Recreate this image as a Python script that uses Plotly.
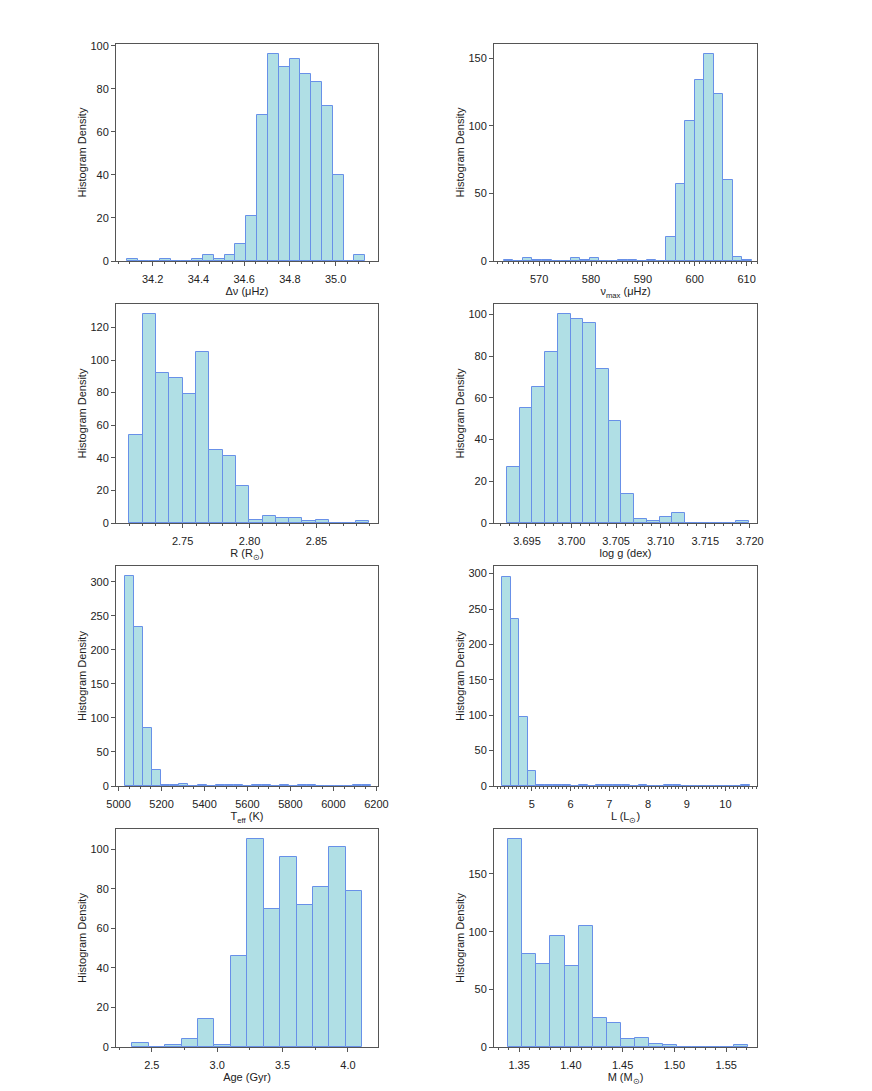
import numpy as np
import plotly.graph_objects as go

# ---- data: bin edge span [first, last] and counts per bin ----
dnu_edges = [34.089, 35.1295]
dnu_counts = [1, 0, 0, 1, 0, 0, 1, 3, 1, 3, 8, 21, 68, 96, 90, 94, 87, 83, 72, 40, 0, 3]

numax_edges = [563.19, 611.02]
numax_counts = [1, 0, 2, 1, 1, 0, 0, 2, 1, 2, 0, 0, 1, 1, 0, 1, 0,
                18, 57, 104, 134, 153, 124, 60, 3, 1]

rad_edges = [2.7102, 2.8893]
rad_counts = [54, 128, 92, 89, 79, 105, 45, 41, 23, 2, 4, 3, 3, 1, 2, 0, 0, 1]

logg_edges = [3.69275, 3.71985]
logg_counts = [27, 55, 65, 82, 100, 98, 96, 74, 49, 14, 2, 1, 3, 5, 0, 0, 0, 0, 1]

teff_edges = [5028.0, 6175.0]
teff_counts = [308, 234, 85, 23, 1, 1, 3, 0, 1, 0, 2, 1, 1, 0, 2, 1, 0, 1, 0, 1,
               1, 0, 0, 0, 0, 1, 1]

lum_edges = [4.237, 10.623]
lum_counts = [295, 236, 98, 21, 1, 2, 2, 1, 0, 1, 0, 1, 2, 2, 2, 0, 1, 0, 0, 1,
              1, 0, 0, 0, 0, 0, 0, 0, 2]

age_edges = [2.351, 4.110]
age_counts = [2, 0, 1, 4, 14, 1, 46, 105, 70, 96, 72, 81, 101, 79]

mass_edges = [1.3393, 1.5711]
mass_counts = [180, 81, 72, 96, 70, 105, 25, 21, 7, 8, 3, 2, 0, 0, 0, 0, 2]

FILL = "#b0dfe5"
EDGE = "#6890e8"
AX = "#555555"
FONT = "Liberation Sans, Arial, sans-serif"
W, H = 872, 1091
PAGE = 8  # default body margin of the html page


def xdom(a, b):
    return [(a - PAGE) / W, (b - PAGE) / W]


def ydom(top, bot):
    return [1 - (bot - PAGE) / H, 1 - (top - PAGE) / H]


col1 = xdom(116, 378)
col2 = xdom(494, 757)
row1 = ydom(44, 261)
row2 = ydom(304, 523)
row3 = ydom(566, 786)
row4 = ydom(829, 1047)

# edges, counts, title, x range, major, minor, format, y dtick, y max, x domain, y domain
panels = [
    (dnu_edges, dnu_counts, "Δν (μHz)", [34.04, 35.185], 0.2, 0.05, ".1f", 20, 100.8, col1, row1),
    (numax_edges, numax_counts, "ν<sub>max</sub> (μHz)", [561.3, 612.0], 10, 1, "d", 50, 160.65, col2, row1),
    (rad_edges, rad_counts, "R (R<sub>⊙</sub>)", [2.7002, 2.896], 0.05, 0.01, ".2f", 20, 134.4, col1, row2),
    (logg_edges, logg_counts, "log g (dex)", [3.6913, 3.7208], 0.005, 0.001, ".3f", 20, 105, col2, row2),
    (teff_edges, teff_counts, "T<sub>eff</sub> (K)", [4988, 6207.5], 200, 50, "d", 50, 323.4, col1, row3),
    (lum_edges, lum_counts, "L (L<sub>⊙</sub>)", [4.022, 10.815], 1, 0.1, "d", 50, 310.8, col2, row3),
    (age_edges, age_counts, "Age (Gyr)", [2.226, 4.23], 0.5, 0.25, ".1f", 20, 110.25, col1, row4),
    (mass_edges, mass_counts, "M (M<sub>⊙</sub>)", [1.3257, 1.5798], 0.05, 0.01, ".2f", 50, 189, col2, row4),
]

fig = go.Figure()
layout = {}

for k, (edges, counts, xtitle, xr, dt, mdt, fmt, ydt, ymax, xd, yd) in enumerate(panels, 1):
    sx = "" if k == 1 else str(k)
    n = len(counts)
    w = (edges[1] - edges[0]) / n
    centers = edges[0] + w * (np.arange(n) + 0.5)

    fig.add_trace(go.Bar(
        x=centers, y=counts, width=w,
        marker=dict(color=FILL, line=dict(color=EDGE, width=1)),
        xaxis="x" + sx, yaxis="y" + sx, showlegend=False,
    ))

    layout["xaxis" + sx] = dict(
        domain=xd, anchor="y" + sx, range=xr, tick0=0, dtick=dt, tickformat=fmt,
        ticks="outside", ticklen=4, tickcolor=AX, showline=True, linecolor=AX,
        linewidth=1, mirror=True, showgrid=False, zeroline=False, automargin=False,
        minor=dict(dtick=mdt, ticks="outside", ticklen=2, tickcolor=AX),
        ticklabelstandoff=4,
        tickfont=dict(size=11, color="#222"),
        title=dict(text=xtitle, standoff=0, font=dict(size=11, color="#222")),
    )
    layout["yaxis" + sx] = dict(
        domain=yd, anchor="x" + sx, range=[0, ymax], dtick=ydt,
        ticks="outside", ticklen=4, tickcolor=AX, showline=True, linecolor=AX,
        linewidth=1, mirror=True, showgrid=False, zeroline=False, automargin=False,
        tickfont=dict(size=11, color="#222"),
        title=dict(text="Histogram Density", standoff=1, font=dict(size=11, color="#222")),
    )
    # inward ticks on the top and right sides of the box
    layout["xaxis%d" % (k + 8)] = dict(
        overlaying="x" + sx, anchor="y" + sx, side="top", range=xr, tick0=0, dtick=dt,
        ticks="inside", ticklen=4, tickcolor=AX, showticklabels=False,
        showgrid=False, zeroline=False, showline=False, automargin=False,
    )
    layout["yaxis%d" % (k + 8)] = dict(
        overlaying="y" + sx, anchor="x" + sx, side="right", range=[0, ymax], dtick=ydt,
        ticks="inside", ticklen=4, tickcolor=AX, showticklabels=False,
        showgrid=False, zeroline=False, showline=False, automargin=False,
    )

fig.update_layout(
    width=W, height=H,
    margin=dict(l=0, r=0, t=0, b=0),
    paper_bgcolor="white", plot_bgcolor="white",
    font=dict(family=FONT, size=11, color="#222"),
    bargap=0,
    **layout,
)

fig.write_html("out.html")
